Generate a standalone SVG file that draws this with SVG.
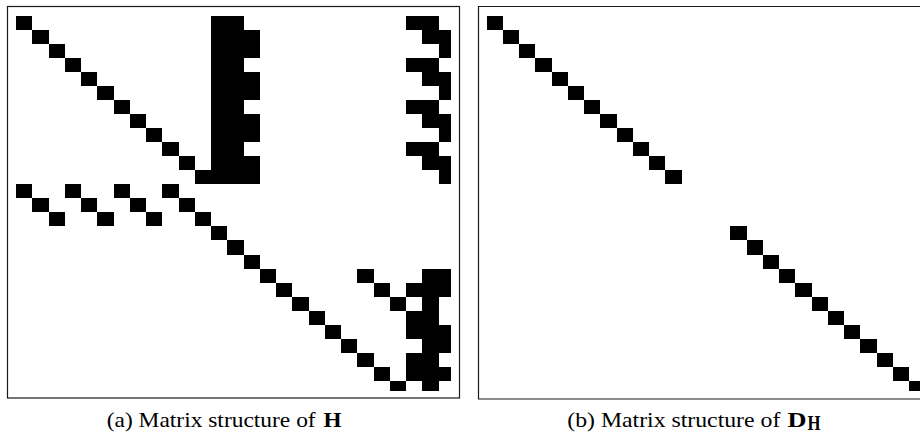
<svg xmlns="http://www.w3.org/2000/svg" width="920" height="435" viewBox="0 0 920 435">
<style>
  .frame { fill: none; stroke: #1a1a1a; stroke-width: 1.2; }
  .nz rect { fill: #000; shape-rendering: crispEdges; }
  .cap { font-family: "Liberation Serif", "DejaVu Serif", serif; font-size: 21px; fill: #000; }
  .b { font-weight: bold; }
</style>
<rect width="920" height="435" fill="#fff"/>

<g id="panel-a">
  <rect class="frame" x="7.5" y="6.5" width="452" height="391.5"/>
  <g class="nz">
    <!-- rows 0-11 -->
    <rect x="16" y="16" width="16.25" height="14.03"/>
    <rect x="211" y="16" width="32.5" height="14.03"/>
    <rect x="406" y="16" width="32.5" height="14.03"/>

    <rect x="32.25" y="30.03" width="16.25" height="14.03"/>
    <rect x="211" y="30.03" width="48.75" height="14.03"/>
    <rect x="422.25" y="30.03" width="28.75" height="14.03"/>

    <rect x="48.5" y="44.06" width="16.25" height="14.03"/>
    <rect x="211" y="44.06" width="48.75" height="14.03"/>
    <rect x="438.5" y="44.06" width="12.5" height="14.03"/>

    <rect x="64.75" y="58.09" width="16.25" height="14.03"/>
    <rect x="211" y="58.09" width="32.5" height="14.03"/>
    <rect x="406" y="58.09" width="32.5" height="14.03"/>

    <rect x="81" y="72.12" width="16.25" height="14.03"/>
    <rect x="211" y="72.12" width="48.75" height="14.03"/>
    <rect x="422.25" y="72.12" width="28.75" height="14.03"/>

    <rect x="97.25" y="86.15" width="16.25" height="14.03"/>
    <rect x="211" y="86.15" width="48.75" height="14.03"/>
    <rect x="438.5" y="86.15" width="12.5" height="14.03"/>

    <rect x="113.5" y="100.18" width="16.25" height="14.03"/>
    <rect x="211" y="100.18" width="32.5" height="14.03"/>
    <rect x="406" y="100.18" width="32.5" height="14.03"/>

    <rect x="129.75" y="114.21" width="16.25" height="14.03"/>
    <rect x="211" y="114.21" width="48.75" height="14.03"/>
    <rect x="422.25" y="114.21" width="28.75" height="14.03"/>

    <rect x="146" y="128.24" width="16.25" height="14.03"/>
    <rect x="211" y="128.24" width="48.75" height="14.03"/>
    <rect x="438.5" y="128.24" width="12.5" height="14.03"/>

    <rect x="162.25" y="142.27" width="16.25" height="14.03"/>
    <rect x="211" y="142.27" width="32.5" height="14.03"/>
    <rect x="406" y="142.27" width="32.5" height="14.03"/>

    <rect x="178.5" y="156.3" width="16.25" height="14.03"/>
    <rect x="211" y="156.3" width="48.75" height="14.03"/>
    <rect x="422.25" y="156.3" width="28.75" height="14.03"/>

    <rect x="194.75" y="170.33" width="65" height="14.03"/>
    <rect x="438.5" y="170.33" width="12.5" height="14.03"/>

    <!-- rows 12-14 -->
    <rect x="16" y="184.36" width="16.25" height="14.03"/>
    <rect x="64.75" y="184.36" width="16.25" height="14.03"/>
    <rect x="113.5" y="184.36" width="16.25" height="14.03"/>
    <rect x="162.25" y="184.36" width="16.25" height="14.03"/>

    <rect x="32.25" y="198.39" width="16.25" height="14.03"/>
    <rect x="81" y="198.39" width="16.25" height="14.03"/>
    <rect x="129.75" y="198.39" width="16.25" height="14.03"/>
    <rect x="178.5" y="198.39" width="16.25" height="14.03"/>

    <rect x="48.5" y="212.42" width="16.25" height="14.03"/>
    <rect x="97.25" y="212.42" width="16.25" height="14.03"/>
    <rect x="146" y="212.42" width="16.25" height="14.03"/>
    <rect x="194.75" y="212.42" width="16.25" height="14.03"/>

    <!-- rows 15-26 -->
    <rect x="211" y="226.45" width="16.25" height="14.03"/>
    <rect x="227.25" y="240.48" width="16.25" height="14.03"/>
    <rect x="243.5" y="254.51" width="16.25" height="14.03"/>

    <rect x="259.75" y="268.54" width="16.25" height="14.03"/>
    <rect x="357.25" y="268.54" width="16.25" height="14.03"/>
    <rect x="422.25" y="268.54" width="28.75" height="14.03"/>

    <rect x="276" y="282.57" width="16.25" height="14.03"/>
    <rect x="373.5" y="282.57" width="16.25" height="14.03"/>
    <rect x="406" y="282.57" width="45" height="14.03"/>

    <rect x="292.25" y="296.6" width="16.25" height="14.03"/>
    <rect x="389.75" y="296.6" width="16.25" height="14.03"/>
    <rect x="422.25" y="296.6" width="16.25" height="14.03"/>

    <rect x="308.5" y="310.63" width="16.25" height="14.03"/>
    <rect x="406" y="310.63" width="32.5" height="14.03"/>

    <rect x="324.75" y="324.66" width="16.25" height="14.03"/>
    <rect x="406" y="324.66" width="45" height="14.03"/>

    <rect x="341" y="338.69" width="16.25" height="14.03"/>
    <rect x="422.25" y="338.69" width="28.75" height="14.03"/>

    <rect x="357.25" y="352.72" width="16.25" height="14.03"/>
    <rect x="406" y="352.72" width="32.5" height="14.03"/>

    <rect x="373.5" y="366.75" width="16.25" height="14.03"/>
    <rect x="406" y="366.75" width="45" height="14.03"/>

    <rect x="389.75" y="380.78" width="16.25" height="9.92"/>
    <rect x="422.25" y="380.78" width="16.25" height="9.92"/>
  </g>
</g>

<g id="panel-b">
  <path class="frame" d="M921,6.5 H478.5 V399 H921"/>
  <g class="nz">
    <rect x="486.7" y="16" width="16.25" height="14.03"/>
    <rect x="502.95" y="30.03" width="16.25" height="14.03"/>
    <rect x="519.2" y="44.06" width="16.25" height="14.03"/>
    <rect x="535.45" y="58.09" width="16.25" height="14.03"/>
    <rect x="551.7" y="72.12" width="16.25" height="14.03"/>
    <rect x="567.95" y="86.15" width="16.25" height="14.03"/>
    <rect x="584.2" y="100.18" width="16.25" height="14.03"/>
    <rect x="600.45" y="114.21" width="16.25" height="14.03"/>
    <rect x="616.7" y="128.24" width="16.25" height="14.03"/>
    <rect x="632.95" y="142.27" width="16.25" height="14.03"/>
    <rect x="649.2" y="156.3" width="16.25" height="14.03"/>
    <rect x="665.45" y="170.33" width="16.25" height="14.03"/>

    <rect x="730.45" y="226.45" width="16.25" height="14.03"/>
    <rect x="746.7" y="240.48" width="16.25" height="14.03"/>
    <rect x="762.95" y="254.51" width="16.25" height="14.03"/>
    <rect x="779.2" y="268.54" width="16.25" height="14.03"/>
    <rect x="795.45" y="282.57" width="16.25" height="14.03"/>
    <rect x="811.7" y="296.6" width="16.25" height="14.03"/>
    <rect x="827.95" y="310.63" width="16.25" height="14.03"/>
    <rect x="844.2" y="324.66" width="16.25" height="14.03"/>
    <rect x="860.45" y="338.69" width="16.25" height="14.03"/>
    <rect x="876.7" y="352.72" width="16.25" height="14.03"/>
    <rect x="892.95" y="366.75" width="16.25" height="14.03"/>
    <rect x="909.2" y="380.78" width="16.25" height="9.92"/>
  </g>
</g>

<g id="captions">
  <text class="cap" x="106.7" y="427" textLength="209" lengthAdjust="spacingAndGlyphs">(a) Matrix structure of</text>
  <text class="cap b" x="323.5" y="427" textLength="18" lengthAdjust="spacingAndGlyphs">H</text>
  <text class="cap" x="567.3" y="427" textLength="213" lengthAdjust="spacingAndGlyphs">(b) Matrix structure of</text>
  <text class="cap b" x="787.5" y="427" textLength="19" lengthAdjust="spacingAndGlyphs">D</text>
  <text class="cap b" x="807.5" y="430" font-size="14" textLength="13" lengthAdjust="spacingAndGlyphs">H</text>
</g>
</svg>
